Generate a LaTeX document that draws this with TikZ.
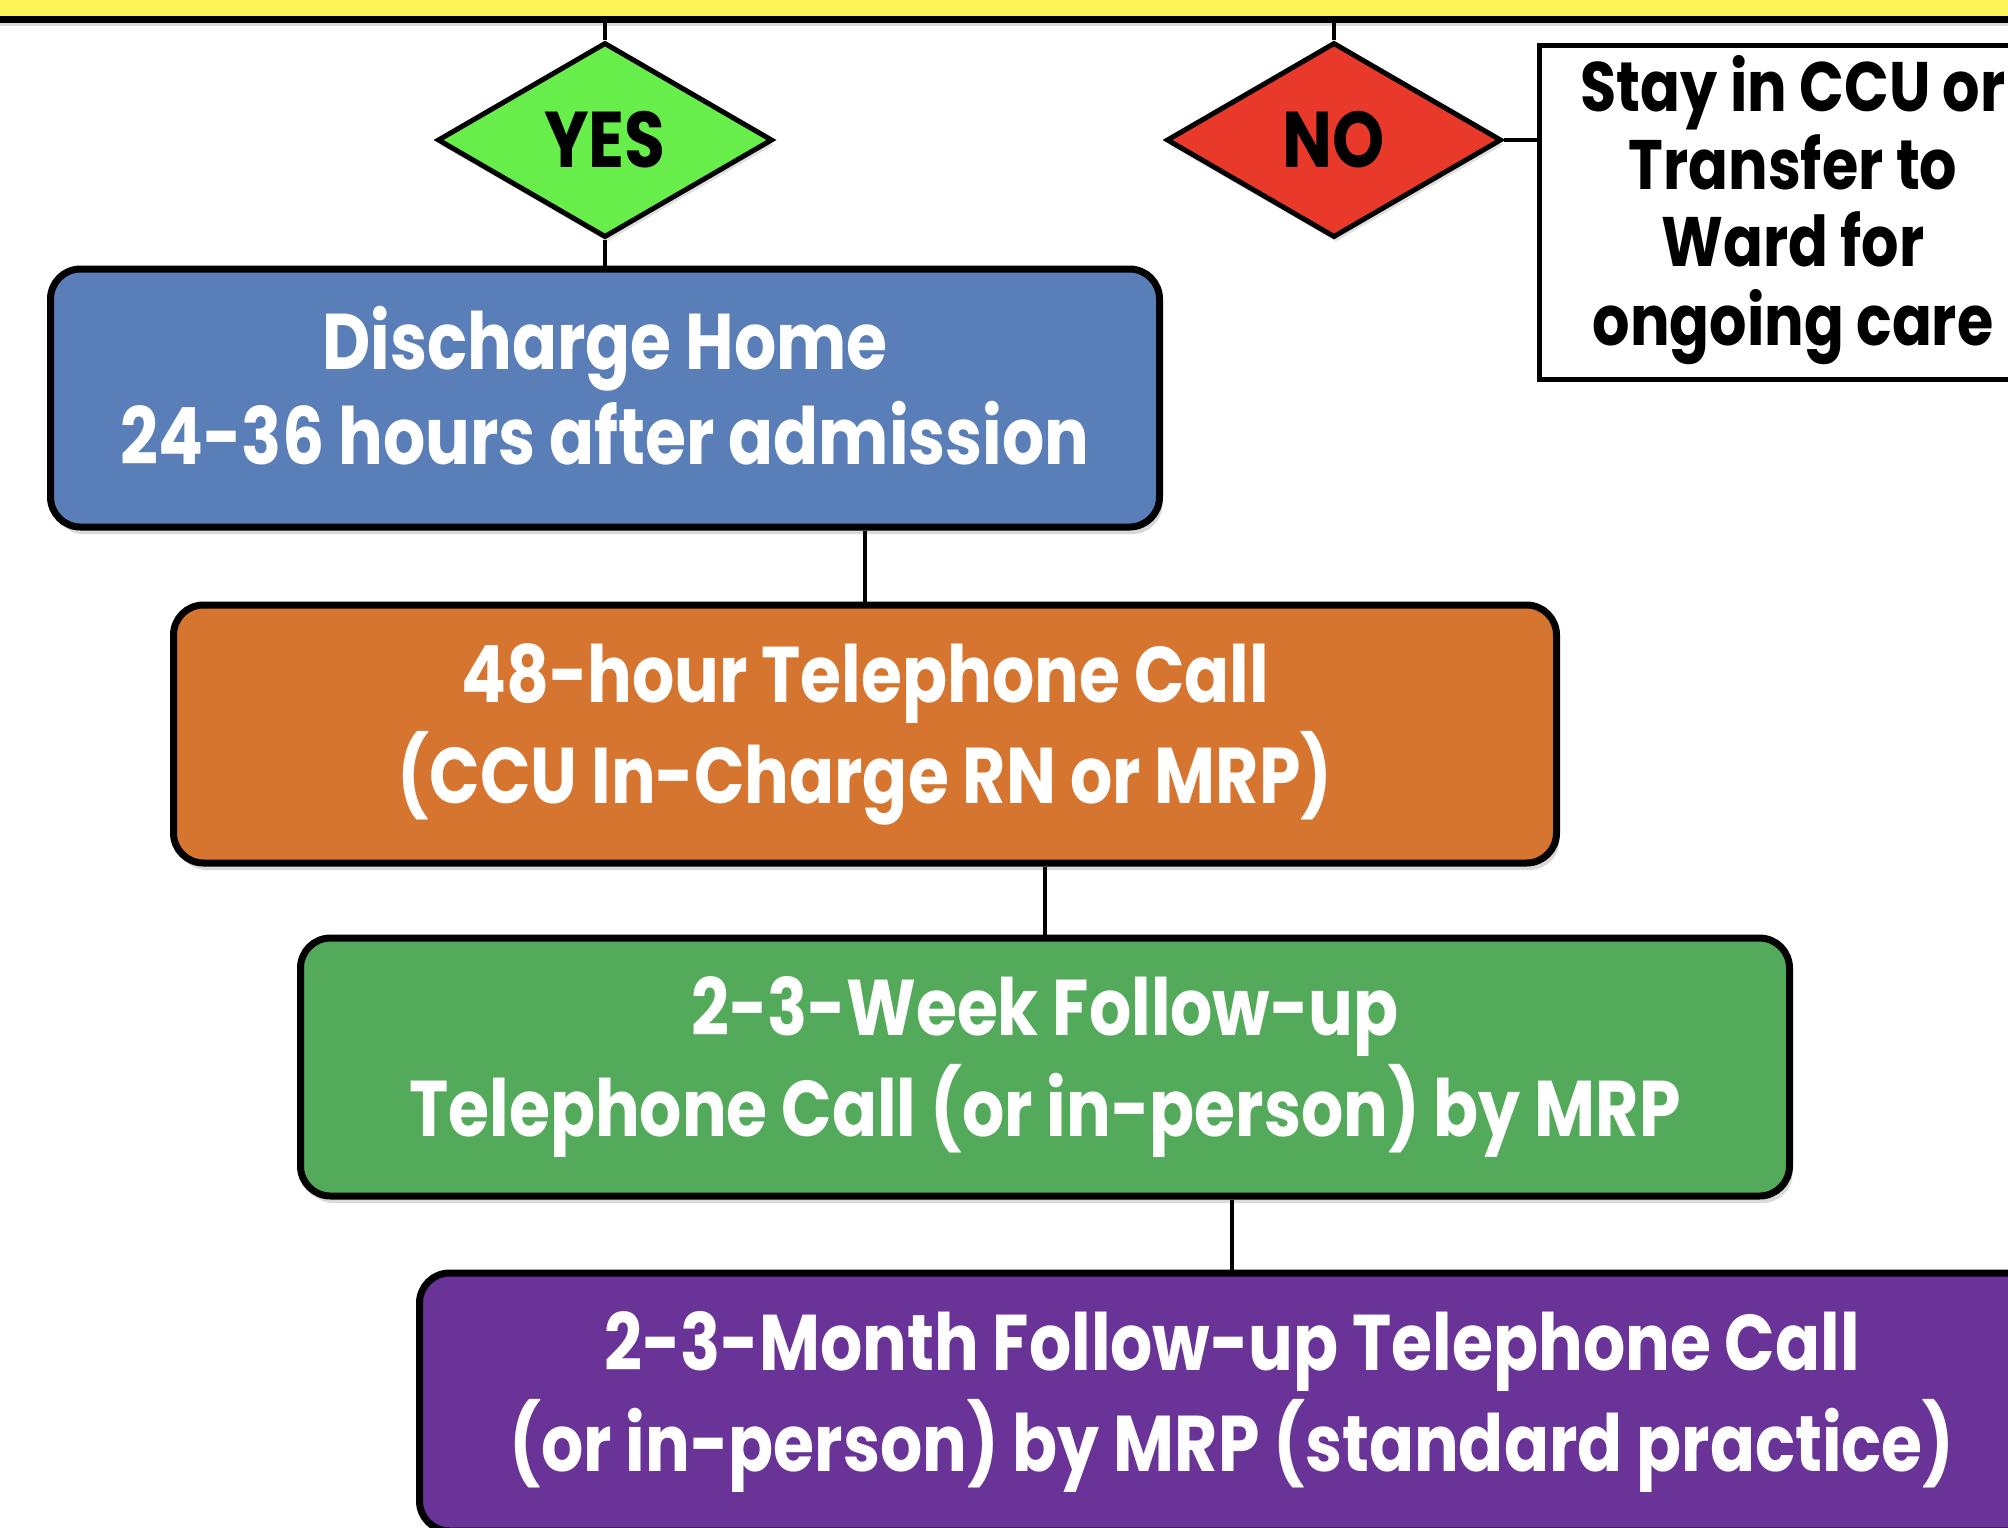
\documentclass[tikz,border=0pt]{standalone}
\usepackage{fontspec}
\setmainfont{Poppins}[FakeStretch=0.84]
\usepackage{xcolor}
\usepackage{tikz}
\usetikzlibrary{shapes.geometric,shadows}

\definecolor{BandYellow}{RGB}{253,245,90}
\definecolor{YesGreen}{RGB}{104,238,74}
\definecolor{NoRed}{RGB}{232,57,42}
\definecolor{HomeBlue}{RGB}{90,127,184}
\definecolor{CallOrange}{RGB}{214,117,47}
\definecolor{WeekGreen}{RGB}{83,170,90}
\definecolor{MonthPurple}{RGB}{105,51,151}

\newcommand{\boxlines}[1]{\begin{tabular}{@{}c@{}}#1\end{tabular}}

\begin{document}
\begin{tikzpicture}[x=1pt, y=-1pt,
        line width=4.5pt,
        stage/.style = {rectangle,
            rounded corners=30pt,
            draw=black, line width=7pt,
            minimum height=258pt,
            text=white,
            font=\bfseries\fontsize{79}{95}\selectfont,
            drop shadow={opacity=0.3, shadow xshift=3pt, shadow yshift=-7pt}},
        decision/.style = {diamond,
            draw=black, line width=5pt,
            minimum width=335pt, minimum height=195pt,
            inner sep=0pt,
            font=\bfseries\fontsize{79}{95}\selectfont,
            drop shadow={opacity=0.25, shadow xshift=2pt, shadow yshift=-5pt}}]

        \useasboundingbox (0,0) rectangle (2008,1527);
        \clip (0,0) rectangle (2008,1527);

        % Top band
        \node[fill=BandYellow, minimum width=2100pt, minimum height=120pt,
            drop shadow={opacity=0.3, shadow yshift=-9pt}] (band) at (1004,-43) {};
        \draw[line width=7pt] (band.south west) -- (band.south east);

        % Decisions
        \node[decision, fill=YesGreen] (yes) at (605,140) {YES};
        \node[decision, fill=NoRed] (no) at (1334,140) {NO};

        % Not ready
        \node[rectangle, draw=black, line width=5pt, fill=white,
            minimum width=508pt, minimum height=334pt,
            font=\bfseries\fontsize{70}{76}\selectfont] (stay) at (1793,212)
            {\boxlines{Stay in CCU or\\Transfer to\\Ward for\\ongoing care}};

        % Follow-up steps
        \node[stage, fill=HomeBlue, minimum width=1109pt] (home) at (605,398)
            {\boxlines{Discharge Home\\24-36 hours after admission}};
        \node[stage, fill=CallOrange, minimum width=1383pt] (call) at (865,734)
            {\boxlines{48-hour Telephone Call\\(CCU In-Charge RN or MRP)}};
        \node[stage, fill=WeekGreen, minimum width=1489pt] (weeks) at (1045,1067)
            {\boxlines{2-3-Week Follow-up\\Telephone Call (or in-person) by MRP}};
        \node[stage, fill=MonthPurple, minimum width=1625pt] (months) at (1232,1402)
            {\boxlines{2-3-Month Follow-up Telephone Call\\(or in-person) by MRP (standard practice)}};

        % Connectors
        \draw (yes.north |- band.south) -- (yes.north);
        \draw (no.north |- band.south) -- (no.north);
        \draw (no.east) -- (no.east -| stay.west);
        \draw (yes.south) -- (home.north);
        \draw (home.south -| call.north) -- (call.north);
        \draw (call.south -| weeks.north) -- (weeks.north);
        \draw (weeks.south -| months.north) -- (months.north);
    \end{tikzpicture}
\end{document}
